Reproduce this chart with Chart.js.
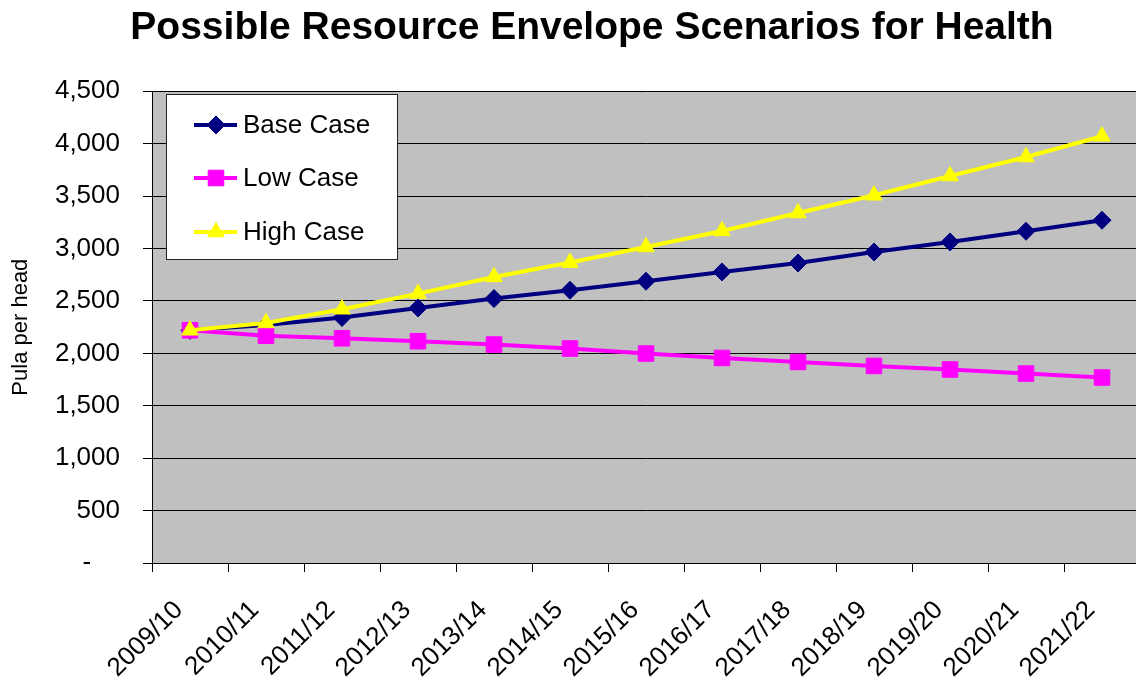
<!DOCTYPE html>
<html>
<head>
<meta charset="utf-8">
<script src="https://cdn.jsdelivr.net/npm/chart.js@4.4.1/dist/chart.umd.min.js"></script>
<style>
html,body{margin:0;padding:0;background:#fff;overflow:hidden;width:1136px;height:682px}
#wrap{width:1184px;height:682px}
</style>
</head>
<body>
<div id="wrap"><canvas id="c" width="1184" height="682"></canvas></div>
<script>
const categories = ['2009/10','2010/11','2011/12','2012/13','2013/14','2014/15','2015/16','2016/17','2017/18','2018/19','2019/20','2020/21','2021/22'];
const baseCase = [2220, 2270, 2342, 2433, 2523, 2602, 2688, 2777, 2862, 2967, 3063, 3165, 3270];
const lowCase  = [2220, 2168, 2144, 2116, 2084, 2046, 1998, 1956, 1918, 1880, 1846, 1807, 1769];
const highCase = [2220, 2290, 2421, 2570, 2729, 2866, 3015, 3168, 3339, 3508, 3692, 3873, 4071];
const yTicks = [0, 500, 1000, 1500, 2000, 2500, 3000, 3500, 4000, 4500];
const seriesNames = ['Base Case', 'Low Case', 'High Case'];

const FONT = "'Liberation Sans', Arial, Helvetica, sans-serif";

const plotBg = {
  id: 'plotBg',
  beforeDraw(chart) {
    const {ctx, chartArea: a} = chart;
    ctx.save();
    ctx.fillStyle = '#C0C0C0';
    ctx.fillRect(a.left, a.top, a.right - a.left, a.bottom - a.top);
    ctx.restore();
  }
};

function drawMarker(ctx, style, r, x, y, color) {
  if (Chart.helpers && Chart.helpers.drawPoint) {
    ctx.fillStyle = color; ctx.strokeStyle = color; ctx.lineWidth = 1;
    Chart.helpers.drawPoint(ctx, {pointStyle: style, radius: r, borderWidth: 1, rotation: 0}, x, y);
  }
}

const boxLegend = {
  id: 'boxLegend',
  afterDatasetsDraw(chart) {
    const ctx = chart.ctx;
    ctx.save();
    const bx = 166, by = 94, bw = 231, bh = 165;
    ctx.fillStyle = '#ffffff';
    ctx.fillRect(bx, by, bw, bh);
    ctx.strokeStyle = '#222';
    ctx.lineWidth = 1;
    ctx.strokeRect(bx + 0.5, by + 0.5, bw, bh);
    const rows = [125, 178, 232];
    [0, 1, 2].forEach((di, k) => {
      const ds = chart.data.datasets[di];
      const y = rows[k];
      ctx.strokeStyle = ds.borderColor;
      ctx.lineWidth = 4;
      ctx.beginPath();
      ctx.moveTo(194, y);
      ctx.lineTo(237, y);
      ctx.stroke();
      drawMarker(ctx, ds.pointStyle, ds.pointRadius, 216, y, ds.borderColor);
      ctx.fillStyle = '#000';
      ctx.font = '26px ' + FONT;
      ctx.textAlign = 'left';
      ctx.textBaseline = 'middle';
      ctx.fillText(ds.label, 243, y + 1);
    });
    ctx.restore();
  }
};

new Chart(document.getElementById('c'), {
  type: 'line',
  data: {
    labels: categories,
    datasets: [
      {label: seriesNames[0], data: baseCase, borderColor: '#000080', backgroundColor: '#000080',
       pointStyle: 'rectRot', pointRadius: 9, pointBorderWidth: 1, pointBorderColor: '#000080', pointBackgroundColor: '#000080',
       borderWidth: 4, tension: 0, order: 2},
      {label: seriesNames[1], data: lowCase, borderColor: '#FF00FF', backgroundColor: '#FF00FF',
       pointStyle: 'rect', pointRadius: 11, pointBorderWidth: 1, pointBorderColor: '#FF00FF', pointBackgroundColor: '#FF00FF',
       borderWidth: 4, tension: 0, order: 1},
      {label: seriesNames[2], data: highCase, borderColor: '#FFFF00', backgroundColor: '#FFFF00',
       pointStyle: 'triangle', pointRadius: 9.5, pointBorderWidth: 1, pointBorderColor: '#FFFF00', pointBackgroundColor: '#FFFF00',
       borderWidth: 4, tension: 0, order: 0}
    ]
  },
  options: {
    responsive: false,
    animation: false,
    devicePixelRatio: 1,
    layout: {padding: {left: 0, right: 0, top: 0, bottom: 0}},
    plugins: {
      legend: {display: false},
      tooltip: {enabled: false},
      title: {
        display: true,
        text: 'Possible Resource Envelope Scenarios for Health',
        color: '#000',
        font: {family: FONT, size: 39, weight: 'bold', lineHeight: 1.2},
        padding: {top: 5, bottom: 39.5}
      }
    },
    scales: {
      x: {
        offset: true,
        grid: {display: true, offset: true, drawOnChartArea: false, drawTicks: true, tickLength: 9, color: '#000', lineWidth: 1},
        border: {display: true, color: '#000', width: 1},
        ticks: {color: '#000', font: {family: FONT, size: 26}, minRotation: 45, maxRotation: 45, autoSkip: false, padding: 23, labelOffset: -11},
        afterFit(s) { s.height = 119; }
      },
      y: {
        min: 0, max: 4500,
        afterBuildTicks(s) { s.ticks = yTicks.map(v => ({value: v})); },
        grid: {display: true, drawOnChartArea: true, drawTicks: true, tickLength: 9, color: '#000', lineWidth: 1},
        border: {display: true, color: '#000', width: 1},
        ticks: {
          color: '#000', font: {family: FONT, size: 26}, padding: 23,
          callback: (v) => v === 0 ? '-    ' : Number(v).toLocaleString('en-US')
        },
        title: {display: true, text: 'Pula per head', color: '#000', font: {family: FONT, size: 22}, padding: {top: 8, bottom: 0}},
        afterFit(s) { s.width = 152; }
      },
      yPad: {
        position: 'right', display: true,
        grid: {display: false, drawTicks: false},
        border: {display: false},
        ticks: {display: false},
        afterFit(s) { s.width = 44; }
      }
    }
  },
  plugins: [plotBg, boxLegend]
});
</script>
</body>
</html>
